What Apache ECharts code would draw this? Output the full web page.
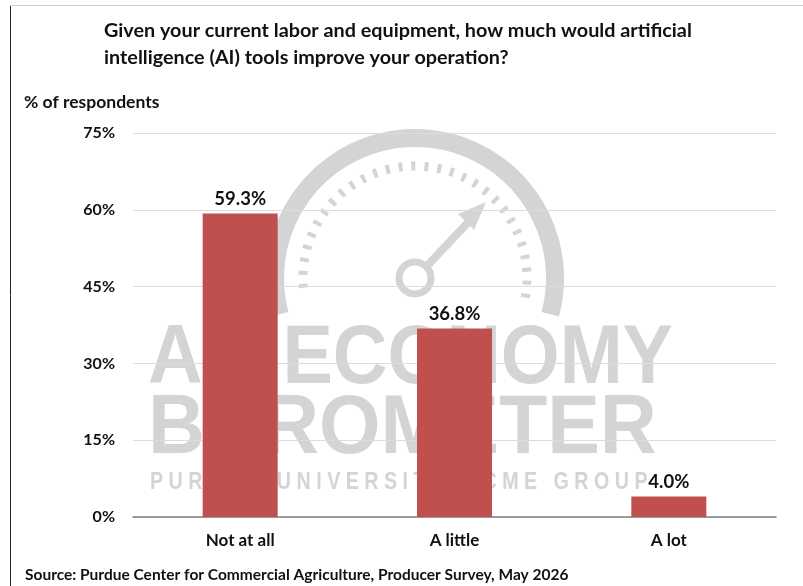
<!DOCTYPE html>
<html><head><meta charset="utf-8">
<script src="https://cdn.jsdelivr.net/npm/echarts@6/dist/echarts.min.js"></script>
<style>html,body{margin:0;padding:0;background:#fff}#c{width:803px;height:586px}</style>
</head><body><div id="c"></div>
<script>
const categories = ['Not at all', 'A little', 'A lot'];
const values = [59.3, 36.8, 4.0];
const yTicks = [0, 15, 30, 45, 60, 75];
const titleLines = ['Given your current labor and equipment, how much would artificial', 'intelligence (AI) tools improve your operation?'];
const yAxisName = '% of respondents';
const sourceText = 'Source: Purdue Center for Commercial Agriculture, Producer Survey, May 2026';

const FONT = 'Lato, "Noto Sans", sans-serif';
const WMFONT = '"Liberation Sans", Arial, sans-serif';
const WM = '#d4d4d4';
const chart = echarts.init(document.getElementById('c'));
const cx = 415, cy = 278;
chart.setOption({
  backgroundColor: '#fff',
  animation: false,
  title: {
    text: titleLines.join('\n'), left: 99, top: 12,
    textStyle: {fontFamily: FONT, fontWeight: 'bold', fontSize: 19.8, color: '#111', lineHeight: 27}
  },
  grid: {left: 133, right: 27, top: 133, bottom: 69},
  xAxis: {
    type: 'category', data: categories,
    axisLine: {lineStyle: {color: '#808080', width: 1.5}},
    axisTick: {show: false},
    axisLabel: {fontFamily: FONT, fontWeight: 'bold', fontSize: 17, color: '#111', margin: 15}
  },
  yAxis: {
    type: 'value', min: yTicks[0], max: yTicks[yTicks.length - 1], interval: yTicks[1] - yTicks[0],
    axisLine: {show: false}, axisTick: {show: false},
    splitLine: {lineStyle: {color: '#dcdcdc', width: 1}},
    axisLabel: {formatter: '{value}%', fontFamily: FONT, fontWeight: 'bold', fontSize: 16, color: '#111', margin: 18}
  },
  graphic: [
    {type: 'line', silent: true, shape: {x1: 10.5, y1: 5, x2: 10.5, y2: 586}, style: {stroke: '#222', lineWidth: 1}},
    {type: 'line', silent: true, shape: {x1: 10, y1: 5.5, x2: 803, y2: 5.5}, style: {stroke: '#ccc', lineWidth: 1}},
    {type: 'text', left: 24, top: 93, style: {text: yAxisName, font: 'bold 17.5px ' + FONT, fill: '#111'}},
    {type: 'text', left: 25, top: 567, style: {text: sourceText, font: 'bold 15.5px ' + FONT, fill: '#111'}},
    // watermark
    {type: 'arc', silent: true, z: -10, shape: {cx: cx, cy: cy, r: 140, startAngle: Math.PI * 165 / 180, endAngle: Math.PI * 375 / 180}, style: {stroke: WM, fill: null, lineWidth: 18}},
    {type: 'arc', silent: true, z: -10, shape: {cx: cx, cy: cy, r: 112, startAngle: Math.PI * 175 / 180, endAngle: Math.PI * 370 / 180}, style: {stroke: WM, fill: null, lineWidth: 9, lineDash: [4, 9]}},
    {type: 'circle', silent: true, z: -10, shape: {cx: cx, cy: cy, r: 16}, style: {stroke: WM, fill: null, lineWidth: 7}},
    {type: 'line', silent: true, z: -10, shape: {x1: cx + 12, y1: cy - 12, x2: 475, y2: 215}, style: {stroke: WM, lineWidth: 8}},
    {type: 'polygon', silent: true, z: -10, shape: {points: [[486, 202], [458, 214], [474, 230]]}, style: {fill: WM}},
    {type: 'text', silent: true, z: -10, x: 148, y: 318, scaleX: 0.9, style: {text: 'AG ECONOMY', font: 'bold 84px ' + WMFONT, fill: WM}},
    {type: 'text', silent: true, z: -10, x: 148, y: 388, scaleX: 0.94, style: {text: 'BAROMETER', font: 'bold 84px ' + WMFONT, fill: WM}},
    {type: 'text', silent: true, z: -10, x: 150, y: 470, scaleX: 0.82, style: {text: 'P U R D U E   U N I V E R S I T Y   |   C M E   G R O U P', font: 'bold 24px ' + WMFONT, fill: WM}}
  ],
  series: [{
    type: 'bar', data: values, barWidth: '35%',
    itemStyle: {color: '#C0504D'},
    label: {show: true, position: 'top', distance: 5, formatter: p => p.value.toFixed(1) + '%', fontFamily: FONT, fontWeight: 'bold', fontSize: 18.5, color: '#111'}
  }]
});
</script></body></html>
